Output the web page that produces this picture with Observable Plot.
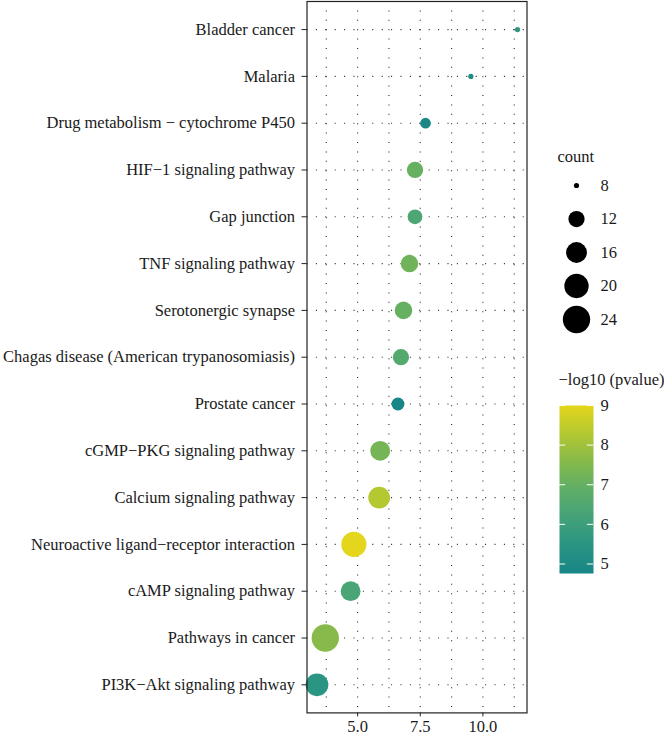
<!DOCTYPE html>
<html>
<head>
<meta charset="utf-8">
<script src="https://cdn.jsdelivr.net/npm/d3@7"></script>
<script src="https://cdn.jsdelivr.net/npm/@observablehq/plot@0.6"></script>
<style>
  html, body { margin: 0; padding: 0; background: #fff; }
  #wrap { position: relative; width: 664px; height: 737px; font-family: "Liberation Serif", serif; }
  .abs { position: absolute; }
</style>
</head>
<body>
<div id="wrap">
  <div id="main" class="abs" style="left:0;top:0"></div>
  <div id="sizeLeg" class="abs" style="left:540px;top:140px"></div>
  <div id="colLeg" class="abs" style="left:540px;top:360px"></div>
</div>
<script>
// ---- data (top to bottom) ----
const terms = [
  "Bladder cancer",
  "Malaria",
  "Drug metabolism \u2212 cytochrome P450",
  "HIF\u22121 signaling pathway",
  "Gap junction",
  "TNF signaling pathway",
  "Serotonergic synapse",
  "Chagas disease (American trypanosomiasis)",
  "Prostate cancer",
  "cGMP\u2212PKG signaling pathway",
  "Calcium signaling pathway",
  "Neuroactive ligand\u2212receptor interaction",
  "cAMP signaling pathway",
  "Pathways in cancer",
  "PI3K\u2212Akt signaling pathway"
];
const ratio  = [11.38, 9.52, 7.71, 7.29, 7.29, 7.07, 6.83, 6.73, 6.61, 5.90, 5.86, 4.85, 4.72, 3.71, 3.38];
const counts = [8, 8, 9, 12, 11, 13, 13, 12, 10, 15, 17, 21, 15, 24, 18];
const logp   = [5.6, 5.1, 4.8, 7.0, 6.4, 7.2, 7.0, 6.6, 4.76, 7.3, 8.3, 9.0, 6.3, 7.6, 5.5];

const xMajor = [5, 7.5, 10];
const xMinor = [3.75, 6.25, 8.75, 11.25];
const sizeBreaks = [8, 12, 16, 20, 24];
const colorBreaks = [5, 6, 7, 8, 9];
const colorStops = ["#178686", "#2a9483", "#44a279", "#5fae67", "#86ba4a", "#b4c832", "#e4d61c"];

const data = terms.map((t, i) => ({term: t, ratio: ratio[i], count: counts[i], logp: logp[i]}));

const countMin = 8, countMax = 24;
const rScale = {type: "sqrt", domain: [0, countMax - countMin], range: [2.6, 13.65]};
const colorScale = {type: "linear", domain: [4.76, 9.0], interpolate: d3.piecewise(d3.interpolateRgb, colorStops)};

const FONT = "Liberation Serif";
const fontSize = 16.5;
const ink = "#1a1a1a";
const gridStyle = {stroke: "#1a1a1a", strokeWidth: 1.1, strokeDasharray: "1,8.4", strokeOpacity: 0.95};

const main = Plot.plot({
  width: 664,
  height: 737,
  marginLeft: 306.5,
  marginRight: 137.5,
  marginTop: 1,
  marginBottom: 24.6,
  style: {fontSize: fontSize + "px", fontFamily: FONT, color: ink, background: "#fff"},
  x: {domain: [2.98, 11.76], label: null},
  y: {type: "point", domain: terms, padding: 0.6, round: false, label: null},
  r: rScale,
  color: colorScale,
  marks: [
    Plot.ruleX(xMinor, gridStyle),
    Plot.ruleX(xMajor, gridStyle),
    Plot.ruleY(terms, gridStyle),
    Plot.dot(data, {x: "ratio", y: "term", r: d => d.count - countMin, fill: "logp", stroke: null}),
    Plot.frame({stroke: "#222", strokeWidth: 1.2}),
    Plot.axisY({tickSize: 5, tickPadding: 7, fontSize, fontFamily: FONT, stroke: "#222", fill: ink, label: null}),
    Plot.axisX(xMajor, {tickSize: 4, tickPadding: 3, tickFormat: d3.format(".1f"), fontSize, fontFamily: FONT, stroke: "#222", fill: ink, label: null})
  ]
});
document.getElementById("main").appendChild(main);

// ---- size legend ----
const sizeLeg = Plot.plot({
  width: 124, height: 200,
  margin: 0,
  style: {fontSize: fontSize + "px", fontFamily: FONT, color: ink, background: "transparent", overflow: "visible"},
  x: {domain: [0, 1], range: [36, 60], axis: null},
  y: {type: "point", domain: sizeBreaks, range: [45, 179], padding: 0, round: false, axis: null},
  r: rScale,
  marks: [
    Plot.text(["count"], {frameAnchor: "top-left", dx: 17, dy: 16, lineAnchor: "middle", textAnchor: "start", fontSize, fontFamily: FONT, fill: ink}),
    Plot.dot(sizeBreaks, {x: () => 0, y: d => d, r: d => d - countMin, fill: "#000", stroke: null}),
    Plot.text(sizeBreaks, {x: () => 1, y: d => d, text: d => String(d), textAnchor: "start", fontSize, fontFamily: FONT, fill: ink})
  ]
});
document.getElementById("sizeLeg").appendChild(sizeLeg);

// ---- color legend ----
const colLeg = Plot.plot({
  width: 124, height: 225,
  margin: 0,
  style: {fontSize: fontSize + "px", fontFamily: FONT, color: ink, background: "transparent", overflow: "visible"},
  x: {domain: [0, 1], range: [19, 53], axis: null},
  y: {domain: [4.76, 9.0], range: [213, 45], axis: null},
  color: colorScale,
  marks: [
    Plot.text(["\u2212log10 (pvalue)"], {frameAnchor: "top-left", dx: 18, dy: 19, lineAnchor: "middle", textAnchor: "start", fontSize, fontFamily: FONT, fill: ink}),
    Plot.raster({fill: (x, y) => y, x1: 0, x2: 1, y1: 4.76, y2: 9.0, width: 1, height: 200, imageRendering: "auto"}),
    Plot.ruleY(colorBreaks, {x1: 0, x2: 0.18, stroke: "#fff", strokeWidth: 1}),
    Plot.ruleY(colorBreaks, {x1: 0.82, x2: 1, stroke: "#fff", strokeWidth: 1}),
    Plot.text(colorBreaks, {x: () => 1, y: d => d, dx: 7, text: d => String(d), textAnchor: "start", fontSize, fontFamily: FONT, fill: ink})
  ]
});
document.getElementById("colLeg").appendChild(colLeg);
</script>
</body>
</html>
